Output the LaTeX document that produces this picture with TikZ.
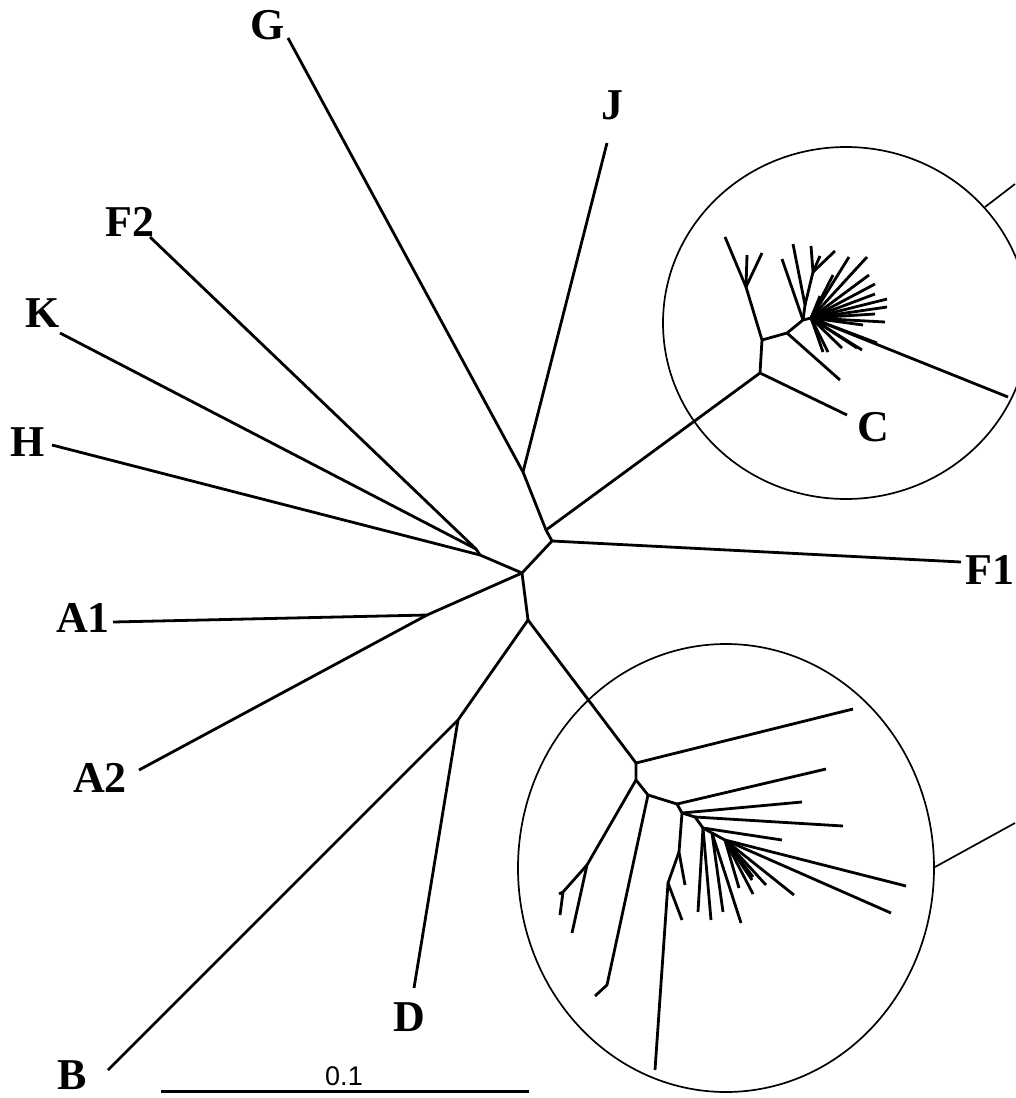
\documentclass[tikz,border=0pt]{standalone}
\usepackage{fontspec}
\setmainfont{Liberation Serif}
\setsansfont{Liberation Sans}
\usetikzlibrary{positioning}

\begin{document}
\begin{tikzpicture}[x=1pt, y=-1pt,
    treeBranch/.style={line width=2.8pt, line join=round},
    cladeRing/.style={line width=1.7pt},
    scaleBar/.style={line width=3pt},
    taxonLabel/.style={font=\fontsize{44}{44}\selectfont\bfseries, inner sep=0pt},
    scaleLabel/.style={font=\sffamily\fontsize{27}{27}\selectfont, inner sep=0pt}
]
    \useasboundingbox (0,0) rectangle (1015,1098);

    % taxon names
    \node[taxonLabel] (labG)  at (268,25)   {G};
    \node[taxonLabel] (labJ)  at (612,105)  {J};
    \node[taxonLabel] (labF2) at (130,222)  {F2};
    \node[taxonLabel] (labK)  at (43,313)   {K};
    \node[taxonLabel] (labH)  at (28,442)   {H};
    \node[taxonLabel] (labA1) at (83,618)   {A1};
    \node[taxonLabel] (labA2) at (100,778)  {A2};
    \node[taxonLabel] (labB)  at (72,1075)  {B};
    \node[taxonLabel] (labD)  at (409,1017) {D};
    \node[taxonLabel] (labF1) at (990,570)  {F1};
    \node[taxonLabel] (labC)  at (873,427)  {C};

    % tips of the named taxa
    \coordinate (tipG)  at (288,38);
    \coordinate (tipJ)  at (607,143);
    \coordinate (tipF2) at (150,237);
    \coordinate (tipK)  at (60,333);
    \coordinate (tipH)  at (52,445);
    \coordinate (tipA1) at (113,622);
    \coordinate (tipA2) at (139,770);
    \coordinate (tipB)  at (108,1070);
    \coordinate (tipD)  at (414,988);
    \coordinate (tipF1) at (961,562);
    \coordinate (tipC)  at (847,415);

    % internal nodes of the backbone
    \coordinate (nRoot) at (522,573);
    \coordinate (nF1)   at (552,541);
    \coordinate (nJC)   at (546,530);
    \coordinate (nGJ)   at (523,472);
    \coordinate (nFK)   at (476,549);
    \coordinate (nH)    at (480,555);
    \coordinate (nA)    at (427,615);
    \coordinate (nLow)  at (528,620);
    \coordinate (nBD)   at (458,720);

    \draw[treeBranch] (nRoot) -- (nF1) -- (tipF1);
    \draw[treeBranch] (nF1) -- (nJC) -- (nGJ) -- (tipG);
    \draw[treeBranch] (nGJ) -- (tipJ);
    \draw[treeBranch] (nRoot) -- (nH) -- (tipH);
    \draw[treeBranch] (nH) -- (nFK) -- (tipF2);
    \draw[treeBranch] (nFK) -- (tipK);
    \draw[treeBranch] (nRoot) -- (nA) -- (tipA1);
    \draw[treeBranch] (nA) -- (tipA2);
    \draw[treeBranch] (nRoot) -- (nLow) -- (nBD) -- (tipB);
    \draw[treeBranch] (nBD) -- (tipD);

    % upper clade (C)
    \coordinate (cC) at (760,373);
    \coordinate (c1) at (762,340);
    \coordinate (cA) at (746,287);
    \coordinate (c2) at (787,333);
    \coordinate (c3) at (803,320);
    \coordinate (c4) at (805,305);
    \coordinate (c5) at (813,272);
    \coordinate (c7) at (811,318);

    \draw[treeBranch] (nJC) -- (cC) -- (tipC);
    \draw[treeBranch] (cC) -- (c1) -- (cA);
    \coordinate (ua1) at (725,237);
    \coordinate (ua2) at (747,255);
    \coordinate (ua3) at (762,253);
    \draw[treeBranch] (cA) -- (ua1);
    \draw[treeBranch] (cA) -- (ua2);
    \draw[treeBranch] (cA) -- (ua3);
    \draw[treeBranch] (c1) -- (c2) -- (c3) -- (c7);
    \coordinate (ub1) at (840,380);
    \draw[treeBranch] (c2) -- (ub1);
    \coordinate (ub2) at (782,259);
    \coordinate (ub3) at (793,244);
    \draw[treeBranch] (c3) -- (ub2);
    \draw[treeBranch] (c3) -- (c4) -- (ub3);
    \draw[treeBranch] (c4) -- (c5);
    \foreach \x/\y [count=\i] in {811/246, 820/256, 835/251} {
        \coordinate (uc\i) at (\x,\y);
        \draw[treeBranch] (c5) -- (uc\i);
    }
    \foreach \x/\y [count=\i] in {833/275, 849/257, 867/257, 869/275, 875/284,
        875/294, 887/299, 887/307, 875/314, 885/322, 863/325, 877/343,
        862/350, 857/348, 842/348, 828/352, 823/352, 820/296, 1008/397} {
        \coordinate (uf\i) at (\x,\y);
        \draw[treeBranch] (c7) -- (uf\i);
    }

    % lower clade
    \coordinate (b1)  at (636,763);
    \coordinate (b2)  at (636,780);
    \coordinate (bA)  at (587,865);
    \coordinate (bA2) at (563,892);
    \coordinate (b3)  at (648,795);
    \coordinate (bB)  at (607,985);
    \coordinate (b4)  at (677,804);
    \coordinate (b5)  at (682,813);
    \coordinate (b6)  at (679,852);
    \coordinate (b7)  at (668,883);
    \coordinate (b8)  at (695,817);
    \coordinate (b9)  at (703,828);
    \coordinate (b10) at (712,833);
    \coordinate (b11) at (725,840);

    \draw[treeBranch] (nLow) -- (b1) -- (b2) -- (b3) -- (b4) -- (b5) -- (b8) -- (b9) -- (b10) -- (b11);
    \coordinate (la1) at (853,709);
    \draw[treeBranch] (b1) -- (la1);
    \coordinate (la2) at (572,933);
    \coordinate (la3) at (560,915);
    \coordinate (la4) at (559,894);
    \draw[treeBranch] (b2) -- (bA) -- (la2);
    \draw[treeBranch] (bA) -- (bA2) -- (la3);
    \draw[treeBranch] (bA2) -- (la4);
    \coordinate (lb1) at (595,996);
    \draw[treeBranch] (b3) -- (bB) -- (lb1);
    \coordinate (lc1) at (826,769);
    \coordinate (lc2) at (802,802);
    \draw[treeBranch] (b4) -- (lc1);
    \draw[treeBranch] (b5) -- (lc2);
    \coordinate (ld1) at (685,885);
    \coordinate (ld2) at (682,920);
    \coordinate (ld3) at (655,1070);
    \draw[treeBranch] (b5) -- (b6) -- (ld1);
    \draw[treeBranch] (b6) -- (b7) -- (ld2);
    \draw[treeBranch] (b7) -- (ld3);
    \coordinate (le1) at (843,826);
    \draw[treeBranch] (b8) -- (le1);
    \foreach \x/\y [count=\i] in {782/840, 698/912, 711/920} {
        \coordinate (lf\i) at (\x,\y);
        \draw[treeBranch] (b9) -- (lf\i);
    }
    \foreach \x/\y [count=\i] in {723/912, 741/923} {
        \coordinate (lg\i) at (\x,\y);
        \draw[treeBranch] (b10) -- (lg\i);
    }
    \foreach \x/\y [count=\i] in {906/886, 891/913, 794/895, 766/885, 753/894,
        739/888, 752/880, 753/877} {
        \coordinate (lh\i) at (\x,\y);
        \draw[treeBranch] (b11) -- (lh\i);
    }

    % rings round the two clades
    \coordinate (ringUp)  at (846,323);
    \coordinate (ringLow) at (726,868);
    \draw[cladeRing] (ringUp) ellipse [x radius=183, y radius=176];
    \draw[cladeRing] (ringLow) ellipse [x radius=208, y radius=224];
    \coordinate (ringUpOut)   at (985,207);
    \coordinate (ringUpEnd)   at (1015,184);
    \coordinate (ringLowOut)  at (935,867);
    \coordinate (ringLowEnd)  at (1015,823);
    \draw[cladeRing] (ringUpOut) -- (ringUpEnd);
    \draw[cladeRing] (ringLowOut) -- (ringLowEnd);

    % scale bar
    \coordinate (sbLeft)  at (161,1091);
    \coordinate (sbRight) at (529,1091);
    \draw[scaleBar] (sbLeft) -- (sbRight);
    \node[scaleLabel] (labScale) at (344,1076) {0.1};
\end{tikzpicture}
\end{document}
